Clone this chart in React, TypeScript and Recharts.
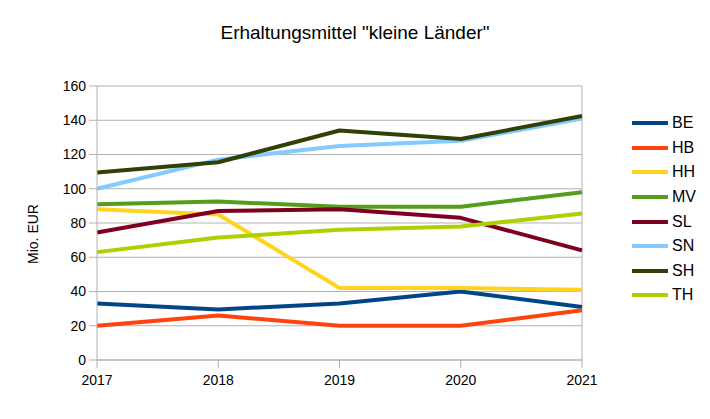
import React from 'react';
import { LineChart, Line, XAxis, YAxis, CartesianGrid, ReferenceLine } from 'recharts';

const years = [2017, 2018, 2019, 2020, 2021];
const yTicks = [0, 20, 40, 60, 80, 100, 120, 140, 160];

const BE = [33, 29.5, 33, 40, 31];
const HB = [20, 26, 20, 20, 29];
const HH = [88, 85, 42, 42, 41];
const MV = [91, 92.5, 89.5, 89.5, 98];
const SL = [74.5, 87, 88, 83, 64];
const SN = [100, 117, 125, 128, 141];
const SH = [109.5, 115.5, 134, 129, 142.5];
const TH = [63, 71.5, 76, 78, 85.5];

const seriesNames = ['BE', 'HB', 'HH', 'MV', 'SL', 'SN', 'SH', 'TH'];
const seriesValues = [BE, HB, HH, MV, SL, SN, SH, TH];
const seriesColors = ['#004586', '#ff420e', '#ffd320', '#579d1c', '#7e0021', '#83caff', '#314004', '#aecf00'];

const data = years.map((year, i) => {
  const row: Record<string, number> = { year };
  seriesNames.forEach((n, k) => {
    row[n] = seriesValues[k][i];
  });
  return row;
});

const FONT = '"Liberation Sans", Arial, sans-serif';
const GRID = '#b3b3b3';

export default function App() {
  return (
    <div style={{ position: 'absolute', left: 0, top: 0, width: 710, height: 419, background: '#fff', fontFamily: FONT }}>
      <div
        style={{
          position: 'absolute',
          left: 0,
          width: 710,
          top: 21,
          textAlign: 'center',
          fontSize: 19,
          color: '#000',
          lineHeight: '24px',
        }}
      >
        Erhaltungsmittel "kleine Länder"
      </div>
      <LineChart width={710} height={419} data={data} margin={{ top: 86, right: 128, bottom: 29, left: 20 }}>
        <CartesianGrid vertical={false} stroke={GRID} strokeWidth={1} />
        <XAxis
          dataKey="year"
          type="number"
          domain={[2017, 2021]}
          ticks={years}
          height={30}
          tickSize={8}
          tickMargin={7}
          axisLine={{ stroke: GRID }}
          tickLine={{ stroke: GRID }}
          tick={{ fill: '#000', fontSize: 14, fontFamily: FONT }}
          allowDecimals={false}
        />
        <YAxis
          domain={[0, 160]}
          ticks={yTicks}
          width={77}
          tickSize={8}
          tickMargin={3}
          axisLine={{ stroke: GRID }}
          tickLine={{ stroke: GRID }}
          tick={{ fill: '#000', fontSize: 14, fontFamily: FONT }}
          label={{
            content: () => (
              <text
                x={38}
                y={234}
                transform="rotate(-90 38 234)"
                textAnchor="middle"
                fontSize={14}
                fontFamily={FONT}
                fill="#000"
              >
                Mio. EUR
              </text>
            ),
          }}
        />
        <ReferenceLine x={2021} stroke={GRID} />
        {seriesNames.map((n, k) => (
          <Line
            key={n}
            dataKey={n}
            type="linear"
            stroke={seriesColors[k]}
            strokeWidth={4}
            strokeLinejoin="round"
            dot={false}
            isAnimationActive={false}
          />
        ))}
      </LineChart>
      <div style={{ position: 'absolute', left: 632, top: 111 }}>
        {seriesNames.map((n, k) => (
          <div key={n} style={{ display: 'flex', alignItems: 'center', height: 24.6 }}>
            <span style={{ display: 'inline-block', width: 36, height: 4, background: seriesColors[k] }} />
            <span style={{ marginLeft: 4, fontSize: 16, color: '#000' }}>{n}</span>
          </div>
        ))}
      </div>
    </div>
  );
}
